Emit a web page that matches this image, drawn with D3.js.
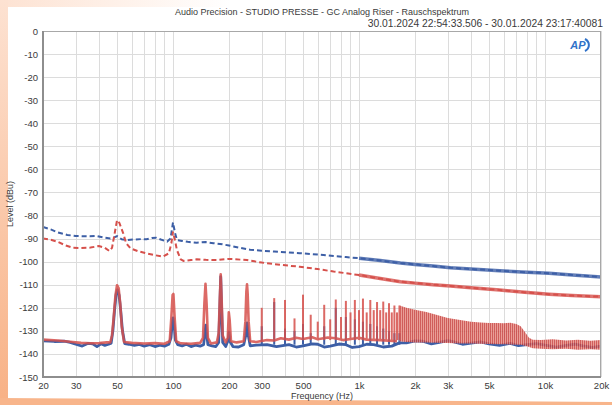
<!DOCTYPE html>
<html>
<head>
<meta charset="utf-8">
<script src="https://cdn.jsdelivr.net/npm/d3@7"></script>
<style>
html, body { margin: 0; padding: 0; background: #fff; }
svg { display: block; font-family: "Liberation Sans", Arial, sans-serif; }
</style>
</head>
<body>
<div id="chart"></div>
<script>
// tick labels / grid
const xTicks = [20, 30, 50, 100, 200, 300, 500, 1000, 2000, 3000, 5000, 10000, 20000];
const xTickLabels = ["20", "30", "50", "100", "200", "300", "500", "1k", "2k", "3k", "5k", "10k", "20k"];
const xGrid = [20, 30, 40, 50, 60, 70, 80, 90, 100, 200, 300, 400, 500, 600, 700, 800, 900,
    1000, 2000, 3000, 4000, 5000, 6000, 7000, 8000, 9000, 10000, 20000];
const yTicks = [0, -10, -20, -30, -40, -50, -60, -70, -80, -90, -100, -110, -120, -130, -140, -150];

// blue dashed noise trace [Hz, dBu]
const blueDashed = [[20, -85], [22, -86], [24, -87.3], [27, -88.4], [30, -88.9], [35, -89], [39, -88.9],
    [43, -89.6], [46, -90], [48, -89.6], [50, -88.9], [53, -90.3], [56, -90.6], [62, -90.4], [68, -90.2],
    [72, -90.3], [77, -89.7], [81, -89.6], [86, -90.4], [93, -91.3], [97, -90], [100, -83], [102.5, -87.5],
    [105, -90.6], [112, -91], [120, -91.4], [134, -91.8], [150, -91.5], [165, -92], [179, -92.3], [200, -93],
    [230, -94], [260, -94.8], [300, -95.3], [350, -95.6], [400, -95.9], [480, -96.3], [600, -96.9],
    [730, -97.5], [850, -98], [1000, -98.5], [1300, -99.5], [1670, -100.6], [2000, -101.2], [2500, -101.9],
    [3100, -102.6], [4000, -103.2], [5700, -103.9], [7500, -104.5], [10500, -105], [14000, -105.8], [20000, -106.6]];

// red dashed noise trace
const redDashed = [[20, -89.9], [22, -90.5], [24, -91.4], [26.5, -93], [29, -94], [32, -94.1], [36, -93.9],
    [40, -93.2], [43, -94], [45.5, -95.4], [47, -94], [48.5, -88], [50, -82], [51.5, -83.2], [54, -87.7],
    [56, -92], [59, -94.2], [65, -95.5], [72, -96.4], [80, -97.2], [88, -97.8], [95, -96.4], [98, -92],
    [100, -87], [102, -90], [105, -95], [110, -99], [114, -99.7], [125, -99.3], [134, -99], [150, -99.2],
    [172, -99.3], [200, -98.8], [250, -99.3], [300, -100.4], [380, -101.4], [480, -102.2], [600, -103.2],
    [730, -104.3], [850, -105], [1000, -105.8], [1300, -107.3], [1670, -108.7], [2000, -109.3], [2500, -110],
    [3100, -110.5], [4000, -111.3], [5700, -112.3], [7500, -113.2], [10500, -114.1], [14000, -114.7], [20000, -115.2]];

// blue solid spectrum (floor and wide low-frequency peaks)
const blueSolid = [[20, -134.3], [23, -134.6], [26, -134.5], [28, -135], [30, -135.8], [32.5, -136.6],
    [35, -135.4], [37, -135.6], [39, -136.8], [41, -135.6], [43, -136.3], [45, -135.8], [46.5, -135.3],
    [47.5, -130], [48.5, -121], [49.5, -114], [50.3, -112.2], [51.3, -114.5], [52.3, -121], [53.5, -130],
    [55, -135.5], [58, -135.8], [62, -136.3], [66, -135.9], [70, -136.6], [75, -136], [80, -136.8],
    [85, -136.2], [90, -136.6], [95, -135.8], [97.5, -133], [99, -127], [100, -124.4], [101.5, -128],
    [103, -134], [106, -136], [112, -136.5], [118, -135.8], [125, -136.8], [132, -136.2], [140, -136.6],
    [146, -136], [148.5, -131], [150, -127.5], [151.5, -131], [154, -136], [162, -136.5], [170, -136.8],
    [176, -135], [178.5, -120], [180.5, -106.5], [182.5, -120], [185, -135], [192, -136.8], [198, -134],
    [200, -130.5], [202, -134.5], [210, -136.8], [225, -137], [240, -136], [246, -132], [250, -126.5],
    [254, -132], [260, -136.5], [280, -136.2], [320, -136], [360, -136.8], [420, -136], [460, -137],
    [500, -136.5], [560, -135.6], [600, -135.8], [650, -137], [700, -136.6], [780, -135.7], [850, -136],
    [920, -137.2], [1000, -136.8], [1100, -135.8], [1200, -136], [1350, -137], [1500, -136.6],
    [1650, -135.2], [1800, -135.2], [2000, -134.3], [2200, -134.5], [2450, -135.6], [2700, -135],
    [3000, -134.2], [3200, -134.7], [3600, -135.8], [4000, -135.3], [4500, -134.8], [5000, -135.6],
    [5700, -136.3], [6500, -135.4], [7200, -136.4], [8000, -136], [9000, -135.5], [10000, -136.2],
    [11500, -137], [13000, -136.3], [14500, -135.8], [16000, -136.5], [18000, -137.2], [20000, -136.6]];

// red solid spectrum (floor and wide low-frequency peaks)
const redSolid = [[20, -133.8], [24, -134.2], [28, -134.7], [32, -135.2], [36, -135.4], [40, -135.3],
    [44, -135], [46, -135], [47, -132], [48, -124], [49, -115], [50, -110.2], [51, -111.5], [52, -118],
    [53, -128], [54.5, -134.8], [60, -135.2], [70, -135.5], [80, -135.3], [90, -135.6], [96, -134.5],
    [98, -124], [99.5, -114.5], [100.5, -114], [102, -124], [104, -134.5], [110, -135.4], [125, -135.6],
    [140, -135.2], [145, -133], [147.5, -118], [149.5, -109.6], [151.5, -118], [154, -133], [160, -135.5],
    [172, -135], [176, -131], [178.5, -116], [180.5, -105.5], [182.5, -116], [185, -132], [192, -135],
    [197, -133], [199.5, -122], [201.5, -125], [205, -134.5], [220, -135], [240, -134.5], [245, -126],
    [248, -113], [250, -109.8], [252, -114], [255, -126], [260, -134.5], [280, -134.8], [320, -134],
    [350, -134.2], [380, -133.2], [420, -133.8], [460, -133], [500, -133.5], [560, -132.8], [600, -133.6],
    [680, -132.9], [750, -133.2], [820, -134], [900, -133.5], [1000, -133], [1100, -133.8],
    [1300, -134], [1600, -134.5]];

// narrow harmonic spikes (50 Hz multiples)
const spikeFreq = [300, 350, 400, 450, 500, 550, 600, 650, 700, 750, 800, 850, 900, 950, 1000,
    1050, 1100, 1150, 1200, 1250, 1300, 1350, 1400, 1450, 1500, 1550, 1600, 1650];
const redSpike = [-120, -115.8, -116.6, -124.6, -114.3, -123, -126, -118.7, -125, -116.4, -124, -117, -122,
    -116.6, -121, -116, -122, -116.6, -121, -117.5, -121, -117.3, -122, -118, -122, -119, -122, -119];
const blueSpike = [-128, -117.5, -129, -130, -127, -131, null, -128, null, -120, null, -124, null, -125,
    null, -126, null, -127, null, -128, null, -129, null, -130, null, -131, null, -131];

// dense red harmonic comb: upper envelope and floor
const combFreq = [1650, 1800, 2000, 2300, 2600, 3000, 3500, 4000, 4500, 5000, 5500, 6000, 6500, 7000,
    7400, 7800, 8200, 8600, 9500, 11000, 13000, 15000, 17500, 20000];
const combTop = [-119, -120, -120.8, -121.8, -123, -124.4, -125.3, -126, -126.4, -126.6, -126.6, -126.7,
    -126.5, -127, -128, -130.5, -133, -133.8, -134, -133.6, -134.2, -133.8, -134.3, -134];
const combBottom = [-134.5, -134.8, -135, -135, -135.2, -135.3, -135.5, -135.5, -135.6, -135.7, -135.8,
    -135.8, -135.9, -136, -136, -136.5, -137, -137.5, -137.8, -138, -137.8, -138.2, -138, -138.2];

const blue = "#3d5fa6",
    red = "#d6504b",
    textCol = "#3a3a3a"

function drawGraphic() {
    const W = 612, H = 405
    const plot = { left: 43, right: 601, top: 31, bottom: 377 }

    const svg = d3.select("#chart").append("svg")
        .attr("width", W)
        .attr("height", H)

    // page background (magazine scan edges)
    const defs = svg.append("defs")
    const gl = defs.append("linearGradient").attr("id", "leftEdge")
        .attr("x1", 0).attr("y1", 0).attr("x2", 0).attr("y2", 1)
    gl.append("stop").attr("offset", 0).attr("stop-color", "#fde2d2")
    gl.append("stop").attr("offset", 1).attr("stop-color", "#f8b185")
    const gt = defs.append("linearGradient").attr("id", "topEdge")
        .attr("x1", 0).attr("y1", 0).attr("x2", 1).attr("y2", 0)
    gt.append("stop").attr("offset", 0).attr("stop-color", "#fde2d2")
    gt.append("stop").attr("offset", 1).attr("stop-color", "#fde2d2").attr("stop-opacity", 0)

    // vertical stripes for the dense harmonic comb
    const pat = defs.append("pattern").attr("id", "comb")
        .attr("patternUnits", "userSpaceOnUse").attr("width", 2).attr("height", 4)
    pat.append("rect").attr("width", 2).attr("height", 4).attr("fill", "#e68e86")
    pat.append("rect").attr("width", 1).attr("height", 4).attr("fill", "#c8413f")

    svg.append("rect").attr("width", W).attr("height", H).attr("fill", "#fff")
    svg.append("rect").attr("x", 0).attr("y", 0).attr("width", 230).attr("height", 7).attr("fill", "url(#topEdge)")
    svg.append("rect").attr("x", 0).attr("y", 0).attr("width", 8).attr("height", H).attr("fill", "url(#leftEdge)")
    svg.append("path").attr("d", "M0,398 L612,402 L612,405 L0,405 Z").attr("fill", "#f8b58b")

    const x = d3.scaleLog().domain([20, 20000]).range([plot.left, plot.right])
    const y = d3.scaleLinear().domain([-150, 0]).range([plot.bottom, plot.top])

    // grid
    const grid = svg.append("g").attr("stroke", "#dcdcdc").attr("stroke-width", 1)
    grid.selectAll(".gx").data(xGrid).join("line")
        .attr("x1", d => Math.round(x(d)) + 0.5).attr("x2", d => Math.round(x(d)) + 0.5)
        .attr("y1", plot.top).attr("y2", plot.bottom)
    grid.selectAll(".gy").data(yTicks).join("line")
        .attr("x1", plot.left).attr("x2", plot.right)
        .attr("y1", d => Math.round(y(d)) + 0.5).attr("y2", d => Math.round(y(d)) + 0.5)

    // axes labels via d3 axes
    const xAxis = svg.append("g")
        .attr("transform", "translate(0," + plot.bottom + ")")
        .call(d3.axisBottom(x).tickValues(xTicks).tickSize(0).tickPadding(5)
            .tickFormat((d, i) => xTickLabels[i]))
    xAxis.select(".domain").remove()
    xAxis.selectAll("text").attr("font-size", 9.5).attr("fill", textCol)
        .attr("font-family", "Liberation Sans, Arial, sans-serif")

    const yAxis = svg.append("g")
        .attr("transform", "translate(" + plot.left + ",0)")
        .call(d3.axisLeft(y).tickValues(yTicks).tickSize(0).tickPadding(5)
            .tickFormat(d => String(d)))
    yAxis.select(".domain").remove()
    yAxis.selectAll("text").attr("font-size", 9.5).attr("fill", textCol)
        .attr("font-family", "Liberation Sans, Arial, sans-serif")

    // clip traces to plot
    defs.append("clipPath").attr("id", "clip").append("rect")
        .attr("x", plot.left).attr("y", plot.top)
        .attr("width", plot.right - plot.left).attr("height", plot.bottom - plot.top)
    const traces = svg.append("g").attr("clip-path", "url(#clip)")

    const line = d3.line().x(d => x(d[0])).y(d => y(d[1]))

    // dashed noise traces
    traces.append("path").datum(blueDashed)
        .attr("d", line).attr("fill", "none").attr("stroke", blue)
        .attr("stroke-width", 2).attr("stroke-dasharray", "5,3")
    traces.append("path").datum(blueDashed.filter(d => d[0] >= 900))
        .attr("d", line).attr("fill", "none").attr("stroke", blue)
        .attr("stroke-width", 3.5).attr("stroke-opacity", 0.8)
    traces.append("path").datum(redDashed)
        .attr("d", line).attr("fill", "none").attr("stroke", red)
        .attr("stroke-width", 2).attr("stroke-dasharray", "5,3")
    traces.append("path").datum(redDashed.filter(d => d[0] >= 900))
        .attr("d", line).attr("fill", "none").attr("stroke", red)
        .attr("stroke-width", 3.5).attr("stroke-opacity", 0.8)

    // blue spectrum
    traces.append("path").datum(blueSolid)
        .attr("d", line).attr("fill", "none").attr("stroke", blue)
        .attr("stroke-width", 2.8).attr("stroke-linejoin", "round")
    traces.selectAll(".bs").data(spikeFreq.map((f, i) => [f, blueSpike[i]]).filter(d => d[1] !== null))
        .join("line")
        .attr("x1", d => x(d[0])).attr("x2", d => x(d[0]))
        .attr("y1", y(-136)).attr("y2", d => y(d[1]))
        .attr("stroke", blue).attr("stroke-width", 2)

    // red spectrum
    const redG = traces.append("g").attr("opacity", 0.85)
    redG.append("path").datum(combFreq.map((f, i) => [f, combTop[i], combBottom[i]]))
        .attr("d", d3.area().x(d => x(d[0])).y0(d => y(d[2])).y1(d => y(d[1])))
        .attr("fill", "url(#comb)")
    redG.append("path").datum(redSolid)
        .attr("d", line).attr("fill", "none").attr("stroke", red)
        .attr("stroke-width", 2.6).attr("stroke-linejoin", "round")
    redG.selectAll(".rs").data(spikeFreq.map((f, i) => [f, redSpike[i]]))
        .join("line")
        .attr("x1", d => x(d[0])).attr("x2", d => x(d[0]))
        .attr("y1", y(-134)).attr("y2", d => y(d[1]))
        .attr("stroke", red).attr("stroke-width", 2)

    // frame
    svg.append("rect")
        .attr("x", plot.left + 0.5).attr("y", plot.top + 0.5)
        .attr("width", plot.right - plot.left - 1).attr("height", plot.bottom - plot.top - 1)
        .attr("fill", "none").attr("stroke", "#a8a8a8")
    svg.append("path")
        .attr("d", `M${plot.left},${plot.top} V${plot.bottom} H${plot.right}`)
        .attr("fill", "none").attr("stroke", "#8e8e8e").attr("stroke-width", 2)

    // titles
    svg.append("text").attr("x", 322).attr("y", 15).attr("text-anchor", "middle")
        .attr("font-size", 9).attr("fill", textCol)
        .text("Audio Precision - STUDIO PRESSE - GC Analog Riser - Rauschspektrum")
    svg.append("text").attr("x", 603).attr("y", 27).attr("text-anchor", "end")
        .attr("font-size", 10.3).attr("fill", textCol)
        .text("30.01.2024 22:54:33.506 - 30.01.2024 23:17:40081")
    svg.append("text").attr("x", 322).attr("y", 399).attr("text-anchor", "middle")
        .attr("font-size", 9).attr("fill", textCol)
        .text("Frequency (Hz)")
    svg.append("text")
        .attr("transform", "translate(13,204) rotate(-90)")
        .attr("text-anchor", "middle")
        .attr("font-size", 9).attr("fill", textCol)
        .text("Level (dBu)")

    // AP logo
    const logo = svg.append("g").attr("transform", "translate(579,45)")
    logo.append("text").attr("x", -1).attr("y", 4).attr("text-anchor", "middle")
        .attr("font-size", 11).attr("font-weight", "bold").attr("font-style", "italic")
        .attr("fill", "#2f72c9").text("AP")
    logo.append("path").attr("d", "M6,-6 A8,7 0 0 1 6,6")
        .attr("fill", "none").attr("stroke", "#2f72c9").attr("stroke-width", 2)
}

window.addEventListener("load", drawGraphic);
</script>
</body>
</html>
